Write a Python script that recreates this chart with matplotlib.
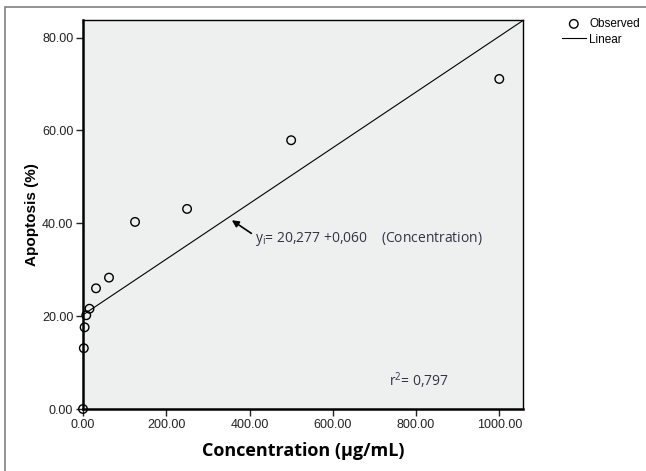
import matplotlib.pyplot as plt
from matplotlib.patches import Rectangle

plt.rcParams['font.family'] = ['Liberation Sans', 'DejaVu Sans']

concentration = [0, 1.95, 3.9, 7.8, 15.6, 31.25, 62.5, 125, 250, 500, 1000]
apoptosis = [0.0, 13.1, 17.6, 20.2, 21.6, 26.0, 28.3, 40.3, 43.1, 57.9, 71.1]

# Linear fit reported on the chart
intercept = 20.277
slope = 0.060
x_ticks = [0, 200, 400, 600, 800, 1000]
y_ticks = [0, 20, 40, 60, 80]

fig = plt.figure(figsize=(6.46, 4.71), dpi=100)
fig.patches.append(Rectangle((5 / 646, -0.1), 1.2, 1 - 7 / 471 + 0.1,
                             transform=fig.transFigure, fill=False,
                             edgecolor='#808080', linewidth=1.2))

ax = fig.add_axes([83 / 646, 1 - 409 / 471, 440 / 646, 389 / 471])
ax.set_facecolor('#eef0f0')

xmax = 1057
line, = ax.plot([0, xmax], [intercept, intercept + slope * xmax],
                color='black', linewidth=0.8, label='Linear', zorder=2)
pts = ax.scatter(concentration, apoptosis, s=38, facecolors='none',
                 edgecolors='black', linewidths=1.0, label='Observed',
                 zorder=3, clip_on=False)

ax.set_xlim(0, xmax)
ax.set_ylim(0, 83.8)
ax.set_xticks(x_ticks)
ax.set_yticks(y_ticks)
ax.set_xticklabels(['%.2f' % v for v in x_ticks])
ax.set_yticklabels(['%.2f' % v for v in y_ticks])
ax.tick_params(direction='out', length=5, width=1, labelsize=9,
               colors='#222222', pad=2)
for s in ax.spines.values():
    s.set_linewidth(1.0)
ax.spines['left'].set_linewidth(1.8)
ax.spines['bottom'].set_linewidth(1.8)

ax.set_xlabel('Concentration (µg/mL)', fontsize=13, fontweight='bold',
              family='Open Sans', labelpad=8)
ax.set_ylabel('Apoptosis (%)', fontsize=11, fontweight='bold', labelpad=2)

# Regression equation with arrow
ax.annotate('', xy=(352, 41.0), xytext=(410, 37.5),
            arrowprops=dict(arrowstyle='-|>', color='black', lw=1.2,
                            mutation_scale=10))
ax.text(412, 36.6, r'y$_\mathregular{i}$= 20,277 +0,060    (Concentration)',
        fontsize=10, color='#333344', family='Open Sans', va='center')
ax.text(736, 6.2, r'r$^\mathregular{2}$= 0,797', fontsize=10,
        color='#333344', family='Open Sans', va='center')

fig.legend([pts, line], ['Observed', 'Linear'], loc='upper left',
           bbox_to_anchor=(562 / 646, 1 - 18 / 471),
           frameon=False, fontsize=8.5, handlelength=2.0, handletextpad=0.3,
           labelspacing=0.3, borderpad=0, borderaxespad=0)

plt.savefig('out.png', dpi=100)
